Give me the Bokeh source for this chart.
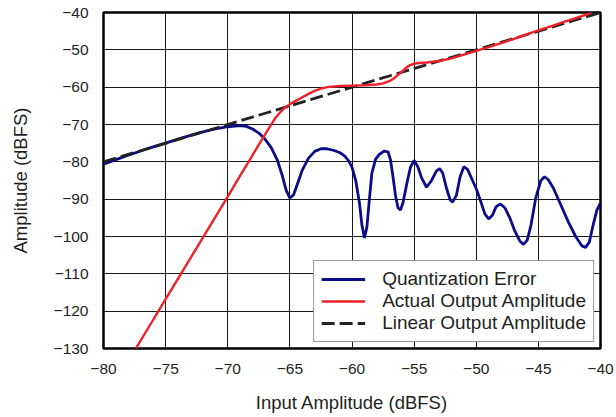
from bokeh.plotting import figure
from bokeh.models import Range1d, FixedTicker, Legend, LegendItem
from bokeh.embed import file_html
from bokeh.resources import INLINE

# ---- data ----
err_x = [-80.0, -79.0, -78.0, -77.0, -76.0, -75.0, -74.0, -73.0, -72.0, -71.0,
         -70.0, -69.0, -68.5, -68.0, -67.5, -67.0, -66.5, -66.0, -65.6, -65.3,
         -65.0, -64.7, -64.4, -64.0, -63.5, -63.0, -62.5, -62.0, -61.5, -61.0,
         -60.6, -60.3, -60.0, -59.7, -59.4, -59.2, -59.0, -58.8, -58.6, -58.4,
         -58.1, -57.8, -57.4, -57.1, -56.9, -56.7, -56.5, -56.3, -56.1, -55.9,
         -55.6, -55.3, -55.0, -54.7, -54.4, -54.0, -53.6, -53.2, -52.95, -52.7,
         -52.4, -52.1, -51.9, -51.6, -51.3, -51.0, -50.7, -50.3, -50.0, -49.6,
         -49.3, -49.0, -48.7, -48.4, -48.05, -47.7, -47.3, -46.9, -46.5, -46.2,
         -45.9, -45.6, -45.2, -44.8, -44.5, -44.2, -43.8, -43.2, -42.6, -42.0,
         -41.5, -41.2, -40.9, -40.6, -40.3, -40.0]
err_y = [-80.6, -79.4, -78.2, -77.1, -76.0, -75.0, -73.9, -72.9, -72.0, -71.2,
         -70.6, -70.3, -70.5, -71.2, -72.3, -73.9, -76.2, -79.6, -83.8, -87.6,
         -89.7, -88.8, -86.0, -82.2, -79.0, -77.2, -76.5, -76.5, -76.9, -77.5,
         -78.4, -79.6, -81.4, -85.0, -91.0, -97.0, -100.4, -97.5, -90.0, -83.0,
         -79.3, -78.0, -77.1, -77.3, -79.5, -84.0, -89.0, -92.3, -92.9, -91.0,
         -86.0, -81.5, -79.6, -81.3, -84.3, -86.8, -85.0, -82.4, -81.8, -83.0,
         -87.0, -90.2, -90.8, -89.0, -84.0, -81.3, -82.0, -85.0, -87.2, -91.0,
         -94.0, -95.3, -94.3, -92.0, -91.3, -92.3, -95.0, -98.5, -101.2, -102.1,
         -101.0, -97.0, -89.5, -85.0, -84.0, -84.8, -87.0, -91.5, -96.0, -100.0,
         -102.5, -102.9, -101.5, -97.0, -93.0, -91.0]

act_x = [-77.4, -76.0, -75.0, -74.0, -73.0, -72.0, -71.0, -70.0, -69.0, -68.0,
         -67.5, -67.0, -66.6, -66.2, -65.8, -65.4, -65.0, -64.5, -64.0, -63.5,
         -63.0, -62.5, -62.0, -61.0, -60.0, -59.0, -58.0, -57.5, -57.0, -56.6,
         -56.3, -56.0, -55.7, -55.4, -55.1, -54.8, -54.0, -53.0, -52.0, -51.0,
         -50.0, -49.0, -48.0, -47.0, -46.0, -45.0, -44.0, -43.0, -42.0, -41.0,
         -40.7]
act_y = [-130.0, -122.3, -116.8, -111.3, -105.8, -100.3, -94.8, -89.3, -83.7, -78.2,
         -75.4, -72.7, -70.5, -68.4, -66.8, -65.5, -64.6, -63.6, -62.7, -61.8,
         -61.0, -60.4, -60.0, -59.7, -59.6, -59.5, -59.3, -59.0, -58.4, -57.6,
         -56.7, -55.9, -55.0, -54.2, -53.8, -53.6, -53.4, -53.0, -52.3, -51.3,
         -50.3, -49.3, -48.2, -47.1, -45.9, -44.8, -43.7, -42.6, -41.5, -40.4,
         -40.0]

lin_x = [-80.0, -40.0]
lin_y = [-80.0, -40.0]

x_ticks = [-80, -75, -70, -65, -60, -55, -50, -45, -40]
x_tick_labels = ["\u221280", "\u221275", "\u221270", "\u221265", "\u221260",
                 "\u221255", "\u221250", "\u221245", "\u221240"]
y_ticks = [-130, -120, -110, -100, -90, -80, -70, -60, -50, -40]
y_tick_labels = ["\u2212130", "\u2212120", "\u2212110", "\u2212100", "\u221290",
                 "\u221280", "\u221270", "\u221260", "\u221250", "\u221240"]

series_names = ["Quantization Error", "Actual Output Amplitude", "Linear Output Amplitude"]
x_title = "Input Amplitude (dBFS)"
y_title = "Amplitude (dBFS)"

FONT = "Liberation Sans"
TXT = "#231f20"

p = figure(width=616, height=415, output_backend="svg", toolbar_location=None,
           x_range=Range1d(-80, -40), y_range=Range1d(-130, -40),
           min_border_left=103, min_border_right=16, min_border_top=12,
           min_border_bottom=67)

p.background_fill_color = "white"
p.border_fill_color = "white"
p.outline_line_color = "black"
p.outline_line_width = 2.5

for ax, ticks, labels in ((p.xaxis[0], x_ticks, x_tick_labels),
                          (p.yaxis[0], y_ticks, y_tick_labels)):
    ax.ticker = FixedTicker(ticks=ticks)
    ax.major_label_overrides = {t: l for t, l in zip(ticks, labels)}
    ax.axis_line_color = None
    ax.major_tick_line_color = None
    ax.minor_tick_line_color = None
    ax.major_tick_out = 0
    ax.major_tick_in = 0
    ax.major_label_text_font = FONT
    ax.major_label_text_font_size = "15.5px"
    ax.major_label_text_color = TXT
    ax.axis_label_text_font = FONT
    ax.axis_label_text_font_size = "18.5px"
    ax.axis_label_text_font_style = "normal"
    ax.axis_label_text_color = TXT

p.xaxis.axis_label = x_title
p.yaxis.axis_label = y_title
p.xaxis.major_label_standoff = 15
p.yaxis.major_label_standoff = 15
p.xaxis.axis_label_standoff = 15
p.yaxis.axis_label_standoff = 20

p.xgrid.ticker = FixedTicker(ticks=x_ticks)
p.ygrid.ticker = FixedTicker(ticks=y_ticks)
for g in (p.xgrid[0], p.ygrid[0]):
    g.grid_line_color = "black"
    g.grid_line_alpha = 0.9
    g.grid_line_width = 1

r_err = p.line(err_x, err_y, line_color="#0b0b8c", line_width=2.8)
r_lin = p.line(lin_x, lin_y, line_color="#222222", line_width=2.8, line_dash="13 5")
r_act = p.line(act_x, act_y, line_color="#f0202a", line_width=2.4)

legend = Legend(items=[LegendItem(label=series_names[0], renderers=[r_err]),
                       LegendItem(label=series_names[1], renderers=[r_act]),
                       LegendItem(label=series_names[2], renderers=[r_lin])],
                location="bottom_right")
legend.margin = 6
legend.padding = 7
legend.spacing = 0
legend.glyph_width = 44
legend.glyph_height = 20
legend.label_height = 20
legend.label_standoff = 17
legend.label_text_font = FONT
legend.label_text_font_size = "19px"
legend.label_text_color = TXT
legend.border_line_color = "#333333"
legend.border_line_width = 1
legend.background_fill_color = "white"
legend.background_fill_alpha = 1.0
p.add_layout(legend, "center")

open("out.html", "w").write(file_html(p, INLINE))
